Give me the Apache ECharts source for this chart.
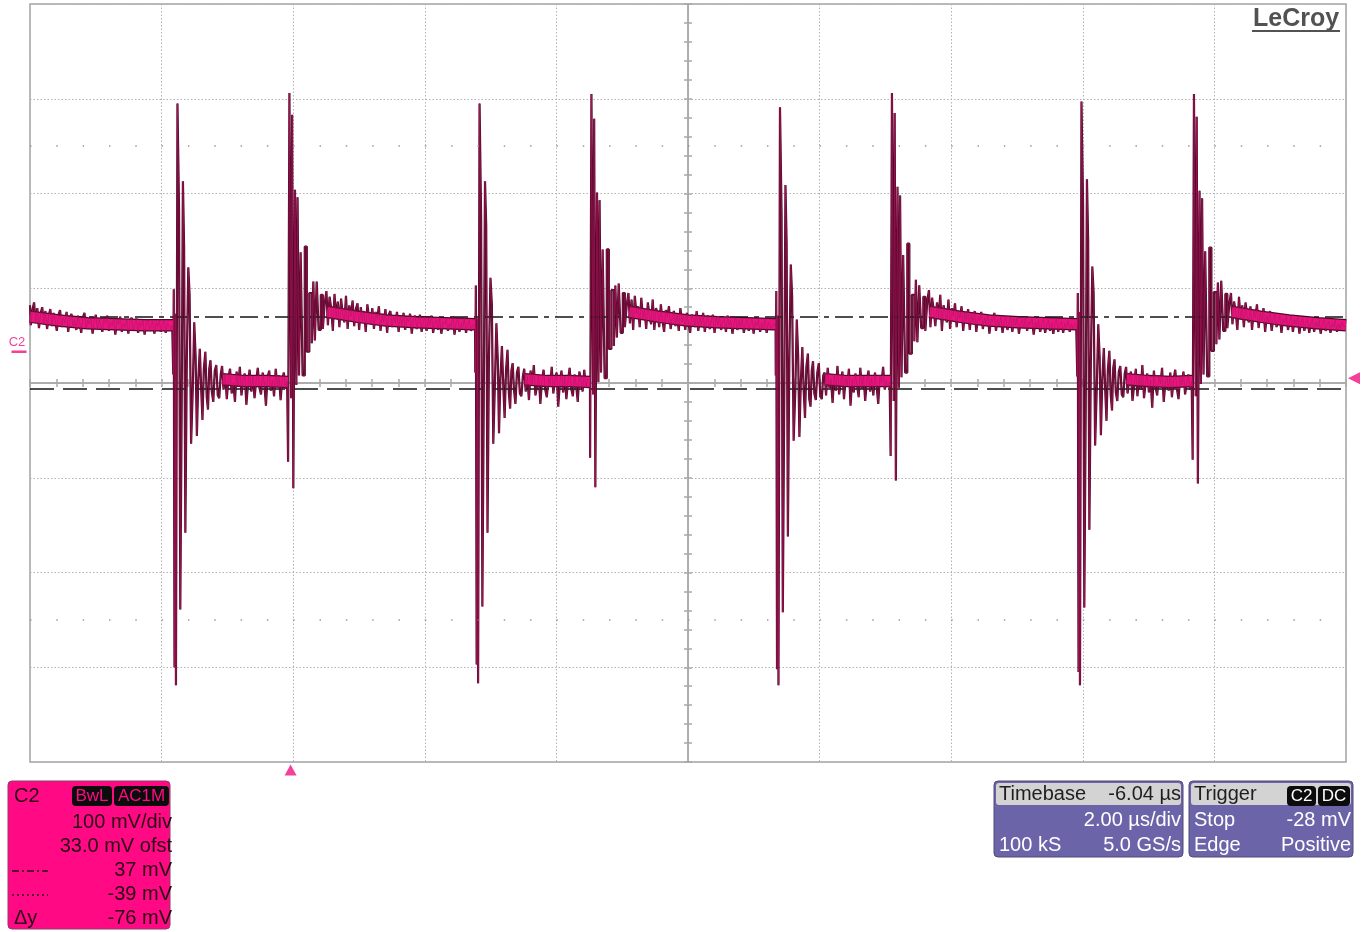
<!DOCTYPE html>
<html>
<head>
<meta charset="utf-8">
<script src="https://cdn.jsdelivr.net/npm/echarts@6/dist/echarts.min.js"></script>
<style>
html,body{margin:0;padding:0;background:#fff;}
#c{width:1372px;height:932px;}
</style>
</head>
<body>
<div id="c"></div>
<script>
// Screen: 10 divisions x 2.00 µs/div, 8 divisions x 100 mV/div, 33.0 mV offset.
const T_MIN = -3.96, T_MAX = 16.04;     // µs, trigger point at 0
const V_MIN = -433, V_MAX = 367;        // mV
const cursorA = 37;                     // mV, dash-dot cursor
const cursorB = -39;                    // mV, dotted cursor
const trigTime = 0, trigLevel = -28;    // µs, mV
const groundLevel = 0;                  // mV, C2 reference marker

// Switching edges (µs): falling, rising, falling, rising ...
const edgeTimes = [-1.786, -0.04, 2.804, 4.550, 7.371, 9.117, 11.953, 13.707];

// Ringing after each edge: [ns after edge, mV]
const ringF1 = [[0,28],[6,-24],[16,66],[28,-333],[38,40],[50,-352],[84,262],[98,150],[122,-272],[140,-60],[160,180],[176,110],[198,-191],[220,-10],[243,89],[260,60],[289,-97],[310,-40],[334,31],[352,-5],[372,-89],[395,-30],[418,3],[438,-40],[456,-72],[480,-18],[502,0],[522,-48],[540,-61],[560,-18],[578,-9],[600,-42],[623,-53],[645,-20],[669,-14],[690,-46],[714,-49],[735,-24]];
const ringR2 = [[0,-31],[5,-116],[40,273],[58,-49],[70,250],[94,-144],[120,171],[136,-35],[156,163],[180,-25],[206,105],[240,-25],[272,111],[302,0],[348,62],[378,9],[394,74],[424,12],[450,74],[484,23],[515,60],[545,24],[575,52]];
const ringF3 = [[0,29],[6,-22],[18,70],[30,-330],[40,35],[52,-350],[84,262],[100,140],[122,-269],[142,-50],[160,180],[178,134],[200,-191],[222,-5],[246,78],[264,50],[290,-97],[312,-35],[336,30],[354,-8],[374,-86],[396,-28],[420,6],[440,-38],[458,-70],[482,-20],[504,2],[524,-44],[542,-60],[562,-20],[580,-12],[602,-40],[625,-55],[647,-22],[670,-16],[692,-44],[716,-47],[737,-26]];
const ringR4 = [[0,-30],[5,-112],[40,272],[58,-45],[70,246],[94,-143],[120,168],[136,-32],[156,160],[180,-22],[206,108],[240,-28],[272,108],[302,3],[348,65],[378,6],[394,70],[424,15],[450,72],[484,20],[515,62],[545,26],[575,50]];
const ringF5 = [[0,28],[6,-25],[16,64],[28,-335],[38,38],[50,-352],[84,258],[98,145],[122,-275],[140,-55],[160,176],[176,115],[198,-195],[220,-8],[243,92],[260,58],[289,-94],[310,-42],[334,34],[352,-4],[372,-90],[395,-32],[418,5],[438,-42],[456,-70],[480,-16],[502,-2],[522,-50],[540,-58],[560,-20],[578,-10],[600,-44],[623,-51],[645,-22],[669,-12],[690,-47],[714,-50],[735,-25]];
const ringR6 = [[0,-32],[5,-110],[40,273],[58,-52],[70,252],[94,-136],[120,174],[136,-38],[156,165],[180,-27],[206,102],[240,-22],[272,114],[302,-2],[348,60],[378,11],[394,76],[424,10],[450,70],[484,25],[515,58],[545,22],[575,54]];
const ringF7 = [[0,27],[6,-26],[16,62],[28,-338],[38,42],[50,-352],[84,264],[98,155],[122,-270],[140,-62],[160,182],[176,118],[198,-188],[220,-12],[243,90],[260,62],[289,-99],[310,-38],[334,29],[352,-6],[372,-88],[395,-29],[418,4],[438,-41],[456,-73],[480,-19],[502,1],[522,-46],[540,-62],[560,-17],[578,-8],[600,-43],[623,-52],[645,-21],[669,-15],[690,-45],[714,-48],[735,-23]];
const ringR8 = [[0,-31],[5,-114],[40,272],[58,-47],[70,248],[94,-139],[120,170],[136,-34],[156,162],[180,-24],[206,106],[240,-26],[272,110],[302,1],[348,63],[378,8],[394,73],[424,13],[450,75],[484,22],[515,61],[545,25],[575,51]];

// Noise on the flat parts between edges (mV, evenly spaced across each part)
const seg0 = [49,28,44,52,31,46,25,40,47,29,43,24,38,45,27,41,33,22,39,44,26,36,30,42,21,35,40,27,33,23,38,31,20,36,41,25,33,29,37,19,32,39,24,34,28,21,36,30,38,22,31,27,35,18,33,29,37,21,30,26,34,19,32,36,23,29,35,20,31,27,33,18,30,34,22,28,32,19,31,26,34,21,29,33,20,30,27,24];
const seg1 = [-15,-40,-24,-50,-27,-18,-44,-33,-53,-21,-37,-16,-46,-29,-23,-56,-34,-19,-42,-26,-49,-31,-17,-38,-45,-22,-33,-57,-27,-20,-41,-30,-47,-18,-36,-25,-51,-29,-22,-39];
const seg2 = [64,28,58,46,22,61,35,53,26,56,40,31,59,24,49,37,54,27,45,51,23,47,33,43,21,50,36,29,46,24,42,35,48,22,40,31,45,20,39,43,26,37,30,42,21,38,28,41,23,36,32,40,19,35,38,24,33,39,21,32,37,22,35,28,38,20,31,34,23,36,19,32,29,35,22,30,26,37,18,31,34,21,30,25,36,20,29,33,22,28];
const seg3 = [-18,-42,-26,-51,-20,-34,-14,-46,-36,-24,-55,-30,-19,-40,-48,-27,-37,-16,-44,-29,-22,-58,-33,-20,-43,-26,-50,-31,-17,-39,-47,-24,-35,-53,-21,-30,-42,-19,-38,-29];
const seg4 = [62,30,55,23,59,40,48,26,57,35,45,24,52,38,29,55,23,46,41,26,50,33,21,44,37,48,24,35,43,27,40,22,46,32,38,23,41,30,20,39,35,26,43,22,37,29,41,21,34,38,24,33,39,20,36,28,37,23,32,35,21,38,27,34,19,31,36,23,33,26,35,20,31,34,22,30,36,19,32,27,34,21,30,25,35,20,31,28,23,29];
const seg5 = [-22,-46,-17,-38,-29,-54,-24,-41,-15,-45,-33,-21,-50,-27,-36,-18,-57,-29,-43,-23,-35,-48,-17,-39,-26,-52,-31,-20,-42,-28,-46,-22,-36,-55,-25,-33,-16,-40,-30,-37];
const seg6 = [65,26,57,44,27,52,36,60,22,49,41,31,55,24,46,37,51,26,43,35,48,22,41,33,45,23,40,31,43,21,37,33,42,24,36,28,39,19,35,32,41,22,34,27,38,20,33,37,23,32,36,21,35,28,37,19,31,34,25,36,22,32,28,35,18,31,25,34,21,30,35,20,29,33,22,31,19,30,34,21,29,32,20,30,26,33,21,29,24,30];
const seg7 = [-16,-44,-29,-21,-52,-35,-18,-47,-26,-40,-14,-49,-33,-23,-43,-30,-59,-20,-37,-46,-25,-34,-17,-53,-32,-27,-41,-22,-48,-29,-19,-39,-50,-26,-35,-21,-45,-33,-24,-40];
const seg8 = [62,29,53,42,23,58,34,49,26,52,38,31,48,23,44,36,50,25,41,33,46,21,38,31,43,22,36,40,26,33,38,20,35,30,39,23,33,37,21,34,29,36,19,32,35,22,31,34,20,30,35,21,31,26,33,19,30,34,22,29,32,20,30,26,33,21,29,24,31,27];

// Settled level of each flat part (mV), used for the dense trace band
const band0 = [37,33,30,29,28,28];
const band1 = [-29,-31,-31,-32];
const band2 = [42,37,33,31,30,29];
const band3 = [-29,-31,-31,-32];
const band4 = [42,37,33,31,30,29];
const band5 = [-29,-31,-31,-31];
const band6 = [42,37,33,31,30,29];
const band7 = [-29,-31,-32,-31];
const band8 = [42,37,33,30,28];

const rings = [ringF1, ringR2, ringF3, ringR4, ringF5, ringR6, ringF7, ringR8];
const segs = [seg0, seg1, seg2, seg3, seg4, seg5, seg6, seg7, seg8];
const bands = [band0, band1, band2, band3, band4, band5, band6, band7, band8];

// Assemble the trace in time order
const trace = [];
const band = [];
let start = T_MIN;
for (let i = 0; i < segs.length; i++) {
  const end = i < edgeTimes.length ? edgeTimes[i] : T_MAX;
  const nz = segs[i];
  const step = (end - start) / nz.length;
  nz.forEach((v, k) => trace.push([start + k * step, v]));
  const bd = bands[i];
  bd.forEach((v, k) => band.push([start + k * (end - start) / (bd.length - 1), v]));
  band.push([end, null]);
  if (i < edgeTimes.length) {
    const ring = rings[i];
    ring.forEach(([ns, v]) => trace.push([edgeTimes[i] + ns / 1000, v]));
    start = edgeTimes[i] + ring[ring.length - 1][0] / 1000 + 0.02;
  } else {
    trace.push([T_MAX, nz[nz.length - 1]]);
  }
}

const DARK = '#4e0a27';
const PINK = '#ea1480';
const GRID = '#b2b2b2';
const FONT = '"Liberation Sans", Arial, sans-serif';

const chart = echarts.init(document.getElementById('c'), null, { renderer: 'canvas' });

const tickAxisX = (inside) => ({
  type: 'value', min: -25, max: 25, interval: 1, position: 'bottom',
  axisLine: { show: true, onZero: true, onZeroAxisIndex: 0, lineStyle: { color: '#a9a9a9', width: 1.5 } },
  axisTick: { show: true, inside: inside, length: 4, lineStyle: { color: '#a9a9a9', width: 1.5 } },
  axisLabel: { show: false }, splitLine: { show: false }
});
const tickAxisY = (inside) => ({
  type: 'value', min: -20, max: 20, interval: 1, position: 'left',
  axisLine: { show: true, onZero: true, onZeroAxisIndex: 0, lineStyle: { color: '#a9a9a9', width: 1.5 } },
  axisTick: { show: true, inside: inside, length: 4, lineStyle: { color: '#a9a9a9', width: 1.5 } },
  axisLabel: { show: false }, splitLine: { show: false }
});

const txt = (x, y, text, fill, align, size, weight) => ({
  type: 'text', x: x, y: y, z: 100,
  style: { text: text, fill: fill, font: (weight || 'normal') + ' ' + (size || 20) + 'px ' + FONT, align: align || 'left', verticalAlign: 'middle' }
});
const tag = (x, w, text, fill) => ([
  { type: 'rect', z: 99, shape: { x: x, y: 786, width: w, height: 20, r: 4 }, style: { fill: '#0c0c0c' } },
  { type: 'text', x: x + w / 2, y: 796.5, z: 100,
    style: { text: text, fill: fill, font: '17px ' + FONT, align: 'center', verticalAlign: 'middle' } }
]);

const option = {
  animation: false,
  backgroundColor: '#ffffff',
  grid: { left: 30, top: 4, right: 26, bottom: 170, show: true, borderColor: '#a4a4a4', borderWidth: 1.5, backgroundColor: 'transparent' },
  xAxis: [
    { type: 'value', min: -5, max: 5, interval: 1, position: 'bottom',
      axisLine: { show: false }, axisTick: { show: false }, axisLabel: { show: false },
      splitLine: { show: true, lineStyle: { color: GRID, width: 1, type: [1.5, 2] } } },
    tickAxisX(true),
    tickAxisX(false),
    { type: 'value', min: T_MIN, max: T_MAX, show: false, position: 'bottom' }
  ],
  yAxis: [
    { type: 'value', min: -4, max: 4, interval: 1, position: 'left',
      axisLine: { show: false }, axisTick: { show: false }, axisLabel: { show: false },
      splitLine: { show: true, lineStyle: { color: GRID, width: 1, type: [1.5, 2] } } },
    tickAxisY(true),
    tickAxisY(false),
    { type: 'value', min: V_MIN, max: V_MAX, show: false, position: 'left' }
  ],
  series: [
    { // quarter-screen dot rows
      type: 'line', xAxisIndex: 0, yAxisIndex: 0, data: [], silent: true,
      markLine: { silent: true, symbol: 'none', label: { show: false },
        lineStyle: { color: '#9a9a9a', width: 1.5, type: [1.5, 24.82] },
        data: [{ yAxis: 2.5 }, { yAxis: -2.5 }] }
    },
    { // trace outline
      name: 'C2', type: 'line', xAxisIndex: 3, yAxisIndex: 3, data: trace, step: 'middle',
      showSymbol: false, symbol: 'none', silent: true, z: 3,
      lineStyle: { color: DARK, width: 2.2 }
    },
    { // dense band outline
      type: 'line', xAxisIndex: 3, yAxisIndex: 3, data: band, connectNulls: false,
      showSymbol: false, symbol: 'none', silent: true, z: 4,
      lineStyle: { color: DARK, width: 12.5 }
    },
    { // dense band core
      type: 'line', xAxisIndex: 3, yAxisIndex: 3, data: band, connectNulls: false,
      showSymbol: false, symbol: 'none', silent: true, z: 5,
      lineStyle: { color: PINK, width: 10 }
    },
    { // trace core
      type: 'line', xAxisIndex: 3, yAxisIndex: 3, data: trace, step: 'middle',
      showSymbol: false, symbol: 'none', silent: true, z: 6,
      lineStyle: { color: '#b3145f', width: 0.6 },
      markLine: { silent: true, symbol: 'none', label: { show: false },
        data: [
          { yAxis: cursorA, lineStyle: { color: '#141414', width: 1.5, type: [18, 6, 5, 6] } },
          { yAxis: cursorB, lineStyle: { color: '#141414', width: 1.5, type: [24, 9] } }
        ] }
    },
    { // trigger position and level markers
      type: 'scatter', xAxisIndex: 3, yAxisIndex: 3, silent: true, clip: false, z: 7,
      itemStyle: { color: '#f0107f' },
      data: [
        { value: [trigTime, V_MIN], symbol: 'triangle', symbolSize: [12, 11], symbolOffset: [0, 8] },
        { value: [T_MAX, trigLevel], symbol: 'triangle', symbolSize: [12, 12], symbolRotate: 90, symbolOffset: [8, 0] }
      ]
    },
    { // channel reference marker
      type: 'scatter', xAxisIndex: 3, yAxisIndex: 3, silent: true, clip: false, z: 7,
      itemStyle: { color: '#f0107f' },
      data: [{ value: [T_MIN, groundLevel], symbol: 'rect', symbolSize: [15, 2.5], symbolOffset: [-11, 0],
        label: { show: true, position: 'top', distance: 2, offset: [-2, 0], formatter: 'C2', color: '#f0107f', fontSize: 13, fontFamily: FONT } }]
    }
  ],
  graphic: [
    // brand mark
    txt(1253, 19, 'LeCroy', '#525252', 'left', 25, 'bold'),
    { type: 'rect', z: 100, shape: { x: 1252, y: 30, width: 88, height: 2 }, style: { fill: '#525252' } },

    // channel box
    { type: 'rect', z: 98, shape: { x: 8, y: 781, width: 162, height: 148, r: 4 }, style: { fill: '#ff0a84', stroke: '#8f3a66', lineWidth: 1 } },
    txt(14, 796, 'C2', '#2b0714'),
    ...tag(72, 40, 'BwL', '#ff0a84'),
    ...tag(114, 55, 'AC1M', '#ff0a84'),
    txt(172, 822, '100 mV/div', '#2b0714', 'right'),
    txt(172, 846, '33.0 mV ofst', '#2b0714', 'right'),
    { type: 'line', z: 100, shape: { x1: 12, y1: 871, x2: 48, y2: 871 }, style: { stroke: '#2b0714', lineWidth: 1.5, lineDash: [7, 3, 2, 3] } },
    txt(172, 870, '37 mV', '#2b0714', 'right'),
    { type: 'line', z: 100, shape: { x1: 12, y1: 895, x2: 48, y2: 895 }, style: { stroke: '#2b0714', lineWidth: 1.5, lineDash: [2, 3] } },
    txt(172, 894, '-39 mV', '#2b0714', 'right'),
    txt(14, 918, 'Δy', '#2b0714'),
    txt(172, 918, '-76 mV', '#2b0714', 'right'),

    // timebase box
    { type: 'rect', z: 98, shape: { x: 994, y: 781, width: 189, height: 76, r: 4 }, style: { fill: '#6c64a8', stroke: '#4e4a78', lineWidth: 1 } },
    { type: 'rect', z: 99, shape: { x: 996, y: 783, width: 185, height: 22, r: 3 }, style: { fill: '#d3d3d3' } },
    txt(999, 794, 'Timebase', '#1e1e1e'),
    txt(1181, 794, '-6.04 µs', '#1e1e1e', 'right'),
    txt(1181, 820, '2.00 µs/div', '#ffffff', 'right'),
    txt(999, 845, '100 kS', '#ffffff'),
    txt(1181, 845, '5.0 GS/s', '#ffffff', 'right'),

    // trigger box
    { type: 'rect', z: 98, shape: { x: 1189, y: 781, width: 164, height: 76, r: 4 }, style: { fill: '#6c64a8', stroke: '#4e4a78', lineWidth: 1 } },
    { type: 'rect', z: 99, shape: { x: 1191, y: 783, width: 160, height: 22, r: 3 }, style: { fill: '#d3d3d3' } },
    txt(1194, 794, 'Trigger', '#1e1e1e'),
    ...tag(1287, 29, 'C2', '#ffffff'),
    ...tag(1318, 32, 'DC', '#ffffff'),
    txt(1194, 820, 'Stop', '#ffffff'),
    txt(1351, 820, '-28 mV', '#ffffff', 'right'),
    txt(1194, 845, 'Edge', '#ffffff'),
    txt(1351, 845, 'Positive', '#ffffff', 'right')
  ]
};

chart.setOption(option);
</script>
</body>
</html>
